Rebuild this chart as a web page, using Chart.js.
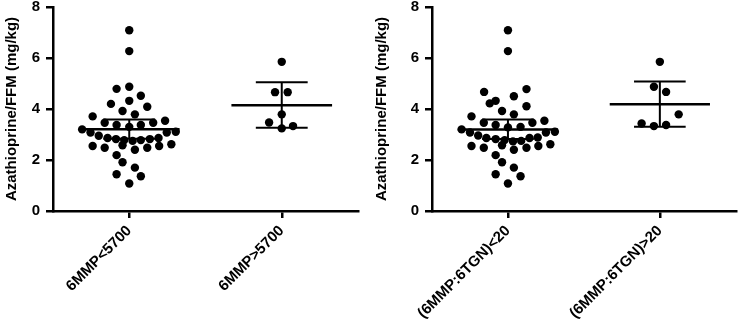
<!DOCTYPE html>
<html lang="en">
<head>
<meta charset="UTF-8">
<title>Azathioprine/FFM</title>
<script src="https://cdn.jsdelivr.net/npm/chart.js"></script>
<style>
  body { margin: 0; background: #fff; }
  .panel { position: absolute; top: 0; }
</style>
</head>
<body>
<div class="panel" style="left:0"><canvas id="chartA" width="370" height="325"></canvas></div>
<div class="panel" style="left:370px"><canvas id="chartB" width="370" height="325"></canvas></div>

<script>
    // y-axis
    const yTicks = [0, 2, 4, 6, 8];
    const yTitle = 'Azathioprine/FFM (mg/kg)';

    // left panel: 6MMP groups
    const groupsA = ['6MMP<5700', '6MMP>5700'];
    const lowA = [7.09, 6.27, 4.87, 4.79, 4.52, 4.32, 4.20, 4.09, 3.92, 3.79, 3.71, 3.54, 3.46, 3.46,
        3.37, 3.37, 3.30, 3.20, 3.11, 3.08, 3.08, 2.95, 2.86, 2.86, 2.82, 2.82, 2.78, 2.78, 2.75,
        2.62, 2.58, 2.55, 2.55, 2.48, 2.48, 2.40, 2.19, 1.91, 1.70, 1.44, 1.36, 1.08];
    const lowAJitter = [0, 0, 0, -0.083, 0.076, 0, -0.12, 0.118, -0.044, 0.037, -0.24, 0.235, -0.161, 0.157,
        -0.083, 0.076, 0, -0.309, 0.305, -0.254, 0.246, -0.2, -0.142, 0.192, -0.087, 0.135, -0.033, 0.076, 0.022,
        0.276, -0.044, -0.24, 0.196, -0.161, 0.118, 0.037, -0.083, -0.044, 0.037, -0.083, 0.076, 0];
    const highA = [5.85, 4.66, 4.66, 3.79, 3.47, 3.24, 3.33];
    const highAJitter = [0, -0.044, 0.039, 0, -0.083, 0, 0.074];
    const meanA = [3.21, 4.15];
    const ciLowA = [2.83, 3.26];
    const ciHighA = [3.59, 5.05];

    // right panel: 6MMP:6TGN ratio groups
    const groupsB = ['(6MMP:6TGN)<20', '(6MMP:6TGN)>20'];
    const lowB = [7.09, 6.27, 4.78, 4.67, 4.50, 4.32, 4.22, 4.11, 3.92, 3.79, 3.71, 3.54, 3.46, 3.46,
        3.37, 3.30, 3.28, 3.20, 3.11, 3.08, 3.08, 2.96, 2.86, 2.88, 2.82, 2.86, 2.78, 2.75, 2.73,
        2.62, 2.58, 2.55, 2.55, 2.48, 2.48, 2.40, 2.19, 1.91, 1.70, 1.44, 1.36, 1.08];
    const lowBJitter = [0, 0, 0.122, -0.157, 0.039, -0.081, -0.12, 0.122, -0.039, 0.039, -0.24, 0.24, -0.159, 0.161,
        -0.081, 0.083, 0, -0.305, 0.309, -0.25, 0.25, -0.196, -0.142, 0.196, -0.081, 0.142, -0.022, 0.087, 0.033,
        0.279, -0.039, -0.24, 0.2, -0.159, 0.122, 0.039, -0.081, -0.039, 0.039, -0.081, 0.083, 0];
    const highB = [5.85, 4.87, 4.67, 3.79, 3.43, 3.33, 3.37];
    const highBJitter = [0, -0.039, 0.041, 0.124, -0.12, -0.039, 0.041];
    const meanB = [3.20, 4.19];
    const ciLowB = [2.82, 3.30];
    const ciHighB = [3.59, 5.08];

    Chart.defaults.font.family = '"Liberation Sans", Arial, sans-serif';
    Chart.defaults.font.weight = 'bold';
    Chart.defaults.font.size = 15;
    Chart.defaults.color = '#000';

    function dots(values, jitter, idx) {
        return values.map((v, i) => ({ x: idx + jitter[i], y: v }));
    }

    function seg(x1, y1, x2, y2, w) {
        return {
            data: [{ x: x1, y: y1 }, { x: x2, y: y2 }],
            showLine: true,
            borderColor: '#000',
            borderWidth: w,
            pointRadius: 0,
            order: 0
        };
    }

    function makeChart(id, groups, low, lowJit, high, highJit, mean, ciLo, ciHi, yWidth, padRight) {
        const datasets = [
            { data: dots(low, lowJit, 0), pointRadius: 4.2, backgroundColor: '#000', borderWidth: 0, order: 1 },
            { data: dots(high, highJit, 1), pointRadius: 4.2, backgroundColor: '#000', borderWidth: 0, order: 1 }
        ];
        mean.forEach((m, i) => {
            datasets.push(seg(i - 0.33, m, i + 0.33, m, 2.5));
            datasets.push(seg(i - 0.17, ciHi[i], i + 0.17, ciHi[i], 2));
            datasets.push(seg(i - 0.17, ciLo[i], i + 0.17, ciLo[i], 2));
            datasets.push(seg(i, ciLo[i], i, ciHi[i], 2));
        });

        new Chart(document.getElementById(id), {
            type: 'scatter',
            data: { datasets },
            options: {
                responsive: false,
                animation: false,
                devicePixelRatio: 1,
                layout: { padding: { top: 7, right: padRight, left: 0, bottom: 0 } },
                plugins: { legend: { display: false }, tooltip: { enabled: false } },
                scales: {
                    x: {
                        type: 'linear',
                        min: -0.5,
                        max: 1.5,
                        afterBuildTicks: s => { s.ticks = [{ value: 0 }, { value: 1 }]; },
                        afterFit: s => { s.height = 114; },
                        border: { color: '#000', width: 2.5 },
                        grid: { drawOnChartArea: false, color: '#000', lineWidth: 2.5, tickLength: 7 },
                        ticks: {
                            autoSkip: false,
                            minRotation: 45,
                            maxRotation: 45,
                            padding: 4,
                            callback: v => groups[v]
                        }
                    },
                    y: {
                        min: 0,
                        max: 8,
                        afterBuildTicks: s => { s.ticks = yTicks.map(v => ({ value: v })); },
                        afterFit: s => { s.width = yWidth; s.paddingTop = 0; s.paddingBottom = 0; },
                        border: { color: '#000', width: 2.5 },
                        grid: { drawOnChartArea: false, color: '#000', lineWidth: 2.5, tickLength: 7 },
                        ticks: { padding: 6 },
                        title: { display: true, text: yTitle, padding: { top: 3, bottom: 0 } }
                    }
                }
            }
        });
    }

    makeChart('chartA', groupsA, lowA, lowAJitter, highA, highAJitter, meanA, ciLowA, ciHighA, 53, 12);
    makeChart('chartB', groupsB, lowB, lowBJitter, highB, highBJitter, meanB, ciLowB, ciHighB, 62, 2);
</script>
</body>
</html>
